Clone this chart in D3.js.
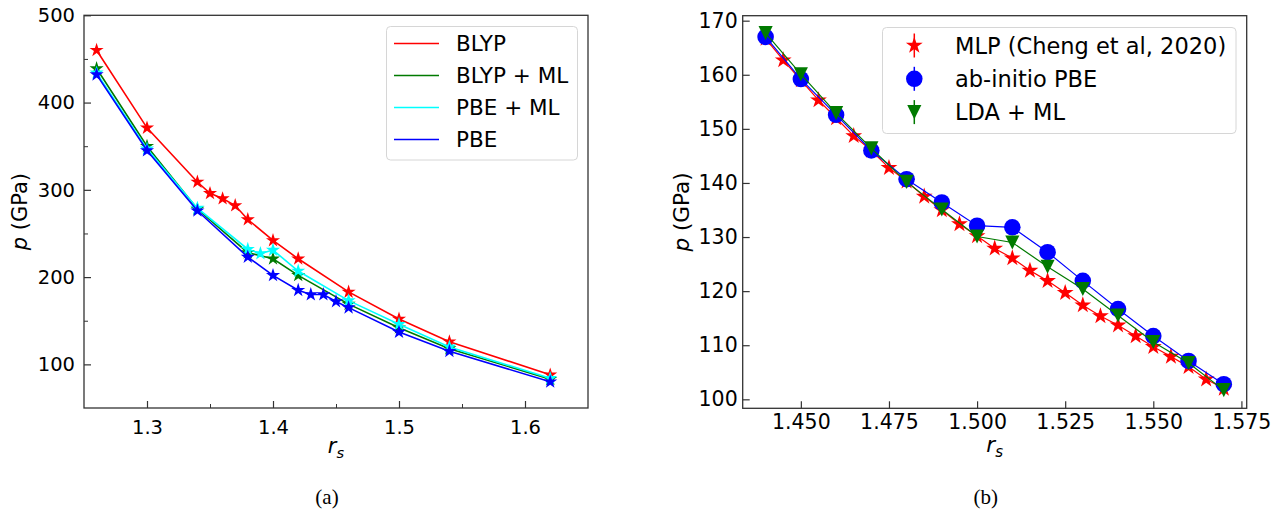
<!DOCTYPE html>
<html>
<head>
<meta charset="utf-8">
<script src="https://cdn.jsdelivr.net/npm/d3@7"></script>
<style>
  body { margin: 0; background: #fff; }
  text { font-family: "DejaVu Sans", sans-serif; }
</style>
</head>
<body>
<div id="chart"></div>
<script>
// ---- panel (a) data ----
var rsBlyp   = [1.26, 1.30, 1.34, 1.35, 1.36, 1.37, 1.38, 1.40, 1.42, 1.46, 1.50, 1.54, 1.62];
var pBlyp    = [460, 371, 309, 296, 290, 282, 266, 242, 221, 183, 152, 126, 88];
var rsBlypML = [1.26, 1.30, 1.34, 1.38, 1.40, 1.42, 1.46, 1.50, 1.54, 1.62];
var pBlypML  = [439, 350, 278, 228, 221, 202, 169, 142, 118, 83];
var rsPbeML  = [1.26, 1.30, 1.34, 1.38, 1.39, 1.40, 1.42, 1.46, 1.50, 1.54, 1.62];
var pPbeML   = [434, 347, 279, 232, 227, 231, 207, 173, 146, 120, 84];
var rsPbe    = [1.26, 1.30, 1.34, 1.38, 1.40, 1.42, 1.43, 1.44, 1.45, 1.46, 1.50, 1.54, 1.62];
var pPbe     = [432, 345, 276, 223, 202, 185, 180, 180, 172, 165, 137, 115, 80];

// ---- panel (b) data ----
var rsMlp = [1.440, 1.445, 1.450, 1.455, 1.460, 1.465, 1.470, 1.475, 1.480, 1.485, 1.490, 1.495, 1.500, 1.505,
             1.510, 1.515, 1.520, 1.525, 1.530, 1.535, 1.540, 1.545, 1.550, 1.555, 1.560, 1.565, 1.570];
var pMlp  = [166.7, 162.7, 159.0, 155.3, 152.0, 148.7, 146.0, 142.8, 140.3, 137.5, 135.0, 132.4, 130.2, 127.9,
             126.1, 123.8, 121.9, 119.7, 117.4, 115.4, 113.7, 111.7, 109.7, 107.9, 106.0, 103.7, 102.0];
var rsAb  = [1.44, 1.45, 1.46, 1.47, 1.48, 1.49, 1.50, 1.51, 1.52, 1.53, 1.54, 1.55, 1.56, 1.57];
var pAbPbe = [167.0, 159.2, 152.6, 146.0, 140.7, 136.4, 132.1, 131.8, 127.2, 121.9, 116.7, 111.7, 107.1, 102.8];
var pLdaML = [167.7, 160.1, 152.9, 146.4, 140.2, 135.1, 130.1, 129.0, 124.5, 120.4, 115.5, 110.6, 106.7, 101.7];

// ticks
var xTicksA = [1.3, 1.4, 1.5, 1.6], xMinorA = [1.35, 1.45, 1.55];
var yTicksA = [100, 200, 300, 400, 500], yMinorA = [150, 250, 350, 450];
var xTicksB = [1.450, 1.475, 1.500, 1.525, 1.550, 1.575];
var yTicksB = [100, 110, 120, 130, 140, 150, 160, 170];

var legendA = ["BLYP", "BLYP + ML", "PBE + ML", "PBE"];
var legendB = ["MLP (Cheng et al, 2020)", "ab-initio PBE", "LDA + ML"];

var width = 1282, height = 514;

var svg = d3.select("#chart").append("svg")
    .attr("width", width)
    .attr("height", height);

// matplotlib style 'v' marker: bbox-centred triangle pointing down
var triangleDown = {
  draw: function(ctx, size) {
    var h = Math.sqrt(size) / 2;
    ctx.moveTo(0, h);
    ctx.lineTo(-h, -h);
    ctx.lineTo(h, -h);
    ctx.closePath();
  }
};

function zip(xs, ys) {
  return xs.map(function(x, i) { return [x, ys[i]]; });
}

function makePanel(o) {
  var x = d3.scaleLinear().domain(o.xDomain).range([o.left, o.right]);
  var y = d3.scaleLinear().domain(o.yDomain).range([o.bottom, o.top]);
  var g = svg.append("g");

  var xAxis = d3.axisBottom(x).tickValues(o.xTicks).tickFormat(d3.format(o.xFmt))
      .tickSizeInner(-7).tickSizeOuter(0).tickPadding(o.xPad);
  var yAxis = d3.axisLeft(y).tickValues(o.yTicks).tickFormat(d3.format("d"))
      .tickSizeInner(-7).tickSizeOuter(0).tickPadding(o.yPad);

  var gx = g.append("g").attr("transform", "translate(0," + o.bottom + ")").call(xAxis);
  var gy = g.append("g").attr("transform", "translate(" + o.left + ",0)").call(yAxis);
  [gx, gy].forEach(function(a) {
    a.select(".domain").remove();
    a.selectAll("line").attr("stroke", "#333").attr("stroke-width", 1.2);
    a.selectAll("text").attr("fill", "#000").style("font-size", o.tickSize + "px")
      .style("font-family", "DejaVu Sans");
  });

  if (o.xMinor) {
    g.append("g").attr("transform", "translate(0," + o.bottom + ")")
      .call(d3.axisBottom(x).tickValues(o.xMinor).tickFormat("").tickSizeInner(-4).tickSizeOuter(0))
      .call(function(a) { a.select(".domain").remove(); a.selectAll("line").attr("stroke", "#333"); });
  }
  if (o.yMinor) {
    g.append("g").attr("transform", "translate(" + o.left + ",0)")
      .call(d3.axisLeft(y).tickValues(o.yMinor).tickFormat("").tickSizeInner(-4).tickSizeOuter(0))
      .call(function(a) { a.select(".domain").remove(); a.selectAll("line").attr("stroke", "#333"); });
  }

  // frame
  g.append("rect")
    .attr("x", o.left).attr("y", o.top)
    .attr("width", o.right - o.left).attr("height", o.bottom - o.top)
    .attr("fill", "none").attr("stroke", "#333").attr("stroke-width", 1.3);

  // axis labels
  var xl = g.append("text")
    .attr("x", (o.left + o.right) / 2).attr("y", o.xLabelY)
    .attr("text-anchor", "middle").style("font-size", o.labelSize + "px");
  xl.append("tspan").style("font-style", "italic").text("r");
  xl.append("tspan").style("font-style", "italic").style("font-size", (o.labelSize * 0.7) + "px")
    .attr("dy", 5).text("s");

  var yl = g.append("text")
    .attr("transform", "translate(" + o.yLabelX + "," + (o.top + o.bottom) / 2 + ")rotate(-90)")
    .attr("text-anchor", "middle").style("font-size", o.labelSize + "px");
  yl.append("tspan").style("font-style", "italic").text("p");
  yl.append("tspan").text(" (GPa)");

  g.append("text")
    .attr("x", (o.left + o.right) / 2 - 9).attr("y", 504)
    .attr("text-anchor", "middle")
    .style("font-family", "Liberation Serif").style("font-size", "21px")
    .text(o.caption);

  return { g: g, x: x, y: y };
}

function drawSeries(p, pts, color, shape, size, lw) {
  var line = d3.line().x(function(d) { return p.x(d[0]); }).y(function(d) { return p.y(d[1]); });
  p.g.append("path").datum(pts)
    .attr("d", line).attr("fill", "none")
    .attr("stroke", color).attr("stroke-width", lw);
  p.g.selectAll(null).data(pts).enter().append("path")
    .attr("transform", function(d) { return "translate(" + p.x(d[0]) + "," + p.y(d[1]) + ")"; })
    .attr("d", d3.symbol().type(shape).size(size))
    .attr("fill", color);
}

// ---------------- panel (a) ----------------
var pa = makePanel({
  left: 84, right: 588, top: 15.3, bottom: 408,
  xDomain: [1.25, 1.65], yDomain: [50, 500],
  xTicks: xTicksA, xMinor: xMinorA, yTicks: yTicksA, yMinor: yMinorA,
  xFmt: ".1f", xPad: 12, yPad: 9, tickSize: 19.5, labelSize: 21,
  xLabelY: 453, yLabelX: 27, caption: "(a)"
});

var colorsA = ["#ff0000", "#007a00", "#00ffff", "#0000ff"];
drawSeries(pa, zip(rsBlyp, pBlyp), colorsA[0], d3.symbolStar, 62, 1.6);
drawSeries(pa, zip(rsBlypML, pBlypML), colorsA[1], d3.symbolStar, 62, 1.6);
drawSeries(pa, zip(rsPbeML, pPbeML), colorsA[2], d3.symbolStar, 62, 1.6);
drawSeries(pa, zip(rsPbe, pPbe), colorsA[3], d3.symbolStar, 62, 1.6);

var legA = pa.g.append("g");
legA.append("rect")
  .attr("x", 386.5).attr("y", 26.5).attr("width", 191).attr("height", 133.5)
  .attr("rx", 4).attr("fill", "#fff").attr("fill-opacity", 0.8)
  .attr("stroke", "#d6d6d6");
legendA.forEach(function(name, i) {
  var cy = 43.5 + i * 32;
  legA.append("line").attr("x1", 394).attr("x2", 439).attr("y1", cy).attr("y2", cy)
    .attr("stroke", colorsA[i]).attr("stroke-width", 1.6);
  legA.append("text").attr("x", 456).attr("y", cy).attr("dy", "0.36em")
    .style("font-size", "21.5px").text(name);
});

// ---------------- panel (b) ----------------
var pb = makePanel({
  left: 742.7, right: 1246.7, top: 15.7, bottom: 408.3,
  xDomain: [1.4335, 1.5765], yDomain: [98.34, 170.92],
  xTicks: xTicksB, yTicks: yTicksB,
  xFmt: ".3f", xPad: 6, yPad: 5, tickSize: 20.5, labelSize: 21.5,
  xLabelY: 452, yLabelX: 689, caption: "(b)"
});

drawSeries(pb, zip(rsMlp, pMlp), "#ff0000", d3.symbolStar, 88, 1.2);
drawSeries(pb, zip(rsAb, pAbPbe), "#0000ff", d3.symbolCircle, 215, 1.2);
drawSeries(pb, zip(rsAb, pLdaML), "#007a00", triangleDown, 200, 1.2);

var legB = pb.g.append("g");
legB.append("rect")
  .attr("x", 882.5).attr("y", 27.5).attr("width", 353.5).attr("height", 106)
  .attr("rx", 4).attr("fill", "#fff").attr("fill-opacity", 0.8)
  .attr("stroke", "#d6d6d6");
var legShapes = [[d3.symbolStar, 88, "#ff0000"], [d3.symbolCircle, 215, "#0000ff"], [triangleDown, 200, "#007a00"]];
legendB.forEach(function(name, i) {
  var cy = 45.5 + i * 33.3, s = legShapes[i];
  legB.append("line").attr("x1", 914.3).attr("x2", 914.3).attr("y1", cy - 12).attr("y2", cy + 12)
    .attr("stroke", s[2]).attr("stroke-width", 1.5);
  legB.append("path").attr("transform", "translate(914.3," + cy + ")")
    .attr("d", d3.symbol().type(s[0]).size(s[1])).attr("fill", s[2]);
  legB.append("text").attr("x", 955).attr("y", cy).attr("dy", "0.36em")
    .style("font-size", "22.5px").text(name);
});
</script>
</body>
</html>
